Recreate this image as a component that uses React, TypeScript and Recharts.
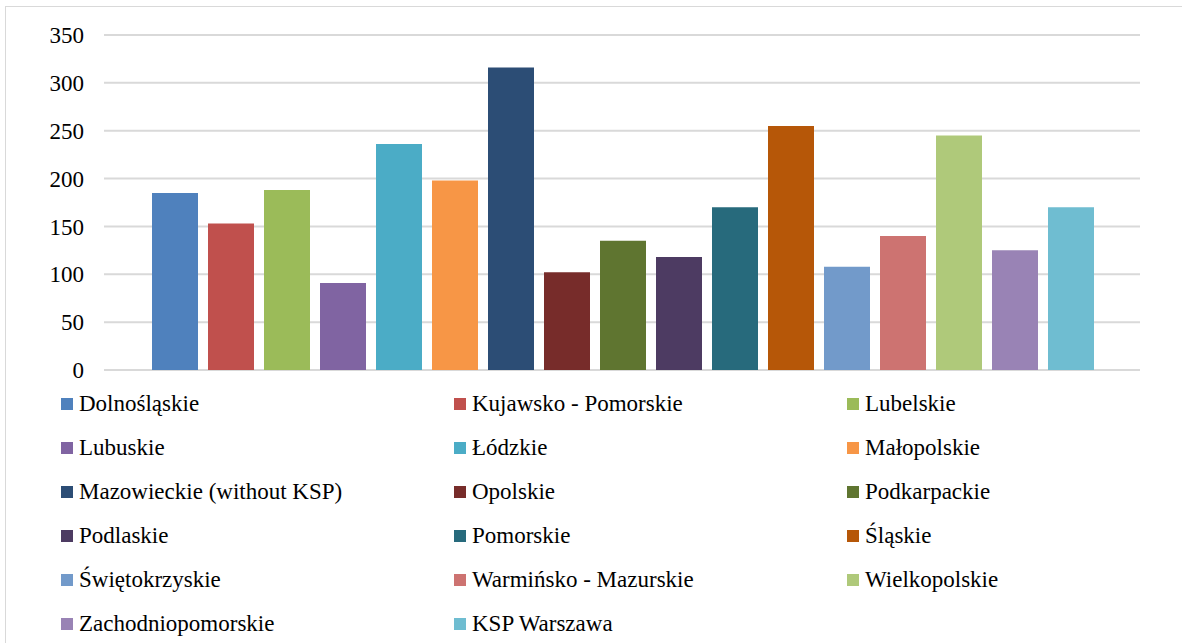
import { BarChart, Bar, XAxis, YAxis, CartesianGrid } from "recharts";

const regions = [
  "Dolnośląskie",
  "Kujawsko - Pomorskie",
  "Lubelskie",
  "Lubuskie",
  "Łódzkie",
  "Małopolskie",
  "Mazowieckie (without KSP)",
  "Opolskie",
  "Podkarpackie",
  "Podlaskie",
  "Pomorskie",
  "Śląskie",
  "Świętokrzyskie",
  "Warmińsko - Mazurskie",
  "Wielkopolskie",
  "Zachodniopomorskie",
  "KSP Warszawa",
];

const values = [185, 153, 188, 91, 236, 198, 316, 102, 135, 118, 170, 255, 108, 140, 245, 125, 170];

const colors = [
  "#4F81BD", "#C0504D", "#9BBB59", "#8064A2", "#4BACC6", "#F79646",
  "#2C4D75", "#772C2A", "#5F7530", "#4D3B62", "#276A7C", "#B65708",
  "#729ACA", "#CD7371", "#AFC97A", "#9983B5", "#6FBDD1",
];

const yTicks = [0, 50, 100, 150, 200, 250, 300, 350];

// one category, one series per region (like the excel clustered chart)
const row: Record<string, string | number> = { name: "all" };
regions.forEach((r, i) => {
  row[`s${i}`] = values[i];
});
const data = [row];

const font = "Liberation Serif";

export default function App() {
  return (
    <div
      style={{
        position: "fixed",
        left: 0,
        top: 0,
        width: 1182,
        height: 643,
        background: "#fff",
        overflow: "hidden",
        fontFamily: font,
      }}
    >
      {/* chart frame */}
      <div
        style={{
          position: "absolute",
          left: 5,
          top: 6,
          width: 1300,
          height: 800,
          border: "1px solid #d9d9d9",
        }}
      />
      <div style={{ position: "absolute", left: 0, top: 0 }}>
        <BarChart
          width={1182}
          height={395}
          data={data}
          margin={{ top: 35, right: 42, bottom: 25, left: 0 }}
          barCategoryGap={48}
          barGap={10}
        >
          <CartesianGrid vertical={false} stroke="#d9d9d9" strokeWidth={2} />
          <XAxis dataKey="name" hide />
          <YAxis
            width={104}
            domain={[0, 350]}
            ticks={yTicks}
            axisLine={false}
            tickLine={false}
            tickSize={0}
            tickMargin={20}
            interval={0}
            tick={{ fill: "#000", fontSize: 23, fontFamily: font }}
          />
          {regions.map((r, i) => (
            <Bar
              key={r}
              dataKey={`s${i}`}
              name={r}
              fill={colors[i]}
              isAnimationActive={false}
            />
          ))}
        </BarChart>
      </div>

      {/* Legend */}
      <div
        style={{
          position: "absolute",
          left: 61,
          top: 382,
          display: "grid",
          gridTemplateColumns: "393px 393px 300px",
        }}
      >
        {regions.map((r, i) => (
          <div
            key={r}
            style={{ display: "flex", alignItems: "center", height: 44 }}
          >
            <span
              style={{
                width: 12,
                height: 12,
                background: colors[i],
                marginRight: 6,
                flexShrink: 0,
              }}
            />
            <span style={{ fontSize: 23, color: "#000", whiteSpace: "nowrap" }}>
              {r}
            </span>
          </div>
        ))}
      </div>
    </div>
  );
}
